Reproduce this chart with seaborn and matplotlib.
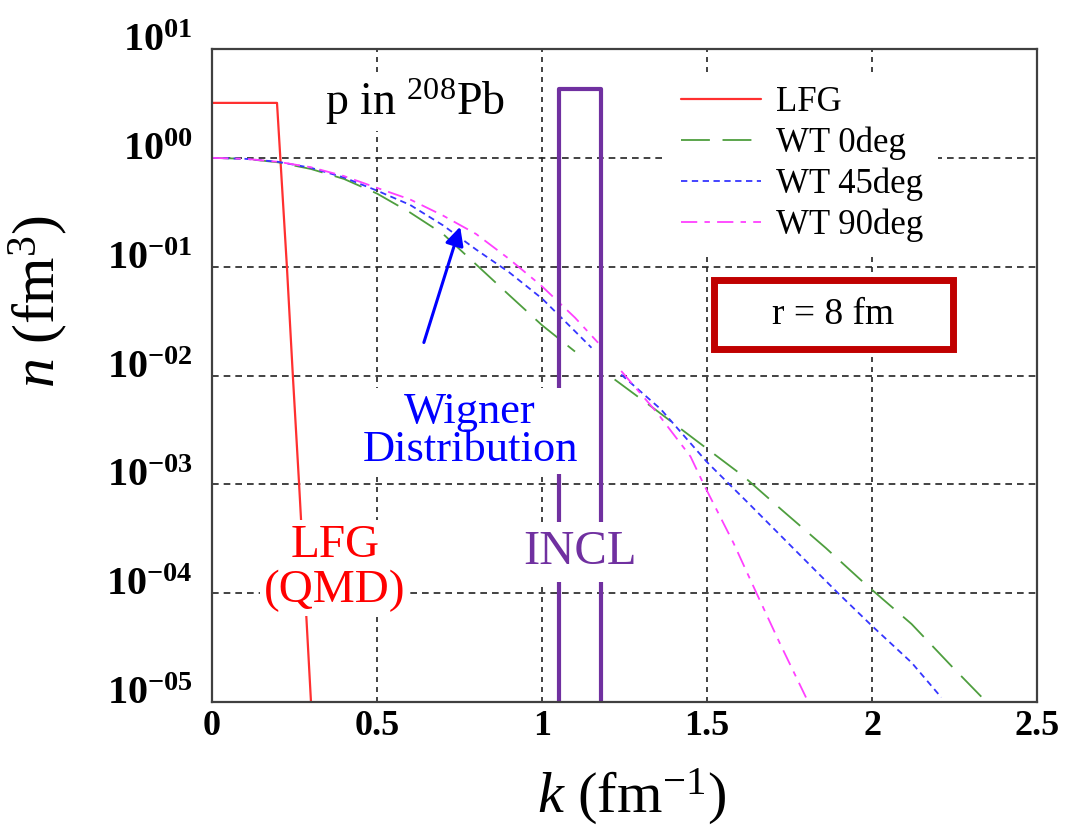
import numpy as np
import pandas as pd
import matplotlib
matplotlib.use("Agg")
import matplotlib.pyplot as plt
import seaborn as sns
from matplotlib.transforms import ScaledTranslation
from matplotlib.ticker import FixedLocator, FixedFormatter, LogLocator, NullFormatter, MultipleLocator
from matplotlib.patches import Rectangle

# ---------------- data ----------------
lfg_k = [0.0, 0.197, 0.227, 0.245, 0.264, 0.282, 0.300, 0.305]
lfg_n = [3.2, 3.2, 1e-1, 1e-2, 1e-3, 1e-4, 1e-5, 7e-6]

wt0_k_low = [0.0, 0.1, 0.2, 0.3, 0.4, 0.5, 0.6, 0.7, 0.8, 0.9, 1.0, 1.1]
wt0_n_low = [1.0, 0.98, 0.91, 0.79, 0.64, 0.47, 0.315, 0.20, 0.105, 0.055, 0.029, 0.0166]
wt0_k_high = [1.22, 1.35, 1.49, 1.61, 1.73, 1.86, 1.98, 2.12, 2.24, 2.34]
wt0_n_high = [9.2e-3, 4.7e-3, 2.24e-3, 1.19e-3, 5.7e-4, 2.6e-4, 1.21e-4, 5.2e-5, 2.15e-5, 1.05e-5]

wt45_k_low = [0.0, 0.1, 0.2, 0.3, 0.4, 0.5, 0.6, 0.7, 0.8, 0.9, 1.0, 1.1, 1.15]
wt45_n_low = [1.0, 0.98, 0.92, 0.81, 0.66, 0.50, 0.37, 0.24, 0.144, 0.089, 0.051, 0.0255, 0.018]
wt45_k_high = [1.24, 1.36, 1.50, 1.63, 1.75, 1.89, 2.00, 2.12, 2.21]
wt45_n_high = [0.0102, 4.9e-3, 1.6e-3, 6.5e-4, 2.8e-4, 1.05e-4, 5.0e-5, 2.3e-5, 1.1e-5]

wt90_k_low = [0.0, 0.1, 0.2, 0.3, 0.4, 0.5, 0.6, 0.7, 0.8, 0.9, 1.0, 1.1, 1.17]
wt90_n_low = [1.0, 0.98, 0.92, 0.82, 0.68, 0.53, 0.415, 0.295, 0.20, 0.118, 0.066, 0.034, 0.020]
wt90_k_high = [1.24, 1.35, 1.45, 1.49, 1.58, 1.65, 1.72, 1.80]
wt90_n_high = [0.011, 4.5e-3, 1.8e-3, 1.0e-3, 2.9e-4, 1.0e-4, 3.5e-5, 1.1e-5]

incl_k = [1.05, 1.05, 1.18, 1.18]
incl_n = [1e-6, 4.3, 4.3, 1e-6]

series_labels = ["LFG", "WT 0deg", "WT 45deg", "WT 90deg"]
x_ticks = [0, 0.5, 1.0, 1.5, 2.0, 2.5]
x_ticklabels = ["0", "0.5", "1", "1.5", "2", "2.5"]
y_ticks = [1e-5, 1e-4, 1e-3, 1e-2, 1e-1, 1e0, 1e1]
y_ticklabels = [r"$\mathbf{10^{-05}}$", r"$\mathbf{10^{-04}}$", r"$\mathbf{10^{-03}}$",
                r"$\mathbf{10^{-02}}$", r"$\mathbf{10^{-01}}$", r"$\mathbf{10^{00}}$",
                r"$\mathbf{10^{01}}$"]

# ---------------- style ----------------
sns.set_style("white")
plt.rcParams["font.family"] = "serif"
plt.rcParams["font.serif"] = ["Liberation Serif", "DejaVu Serif"]
plt.rcParams["mathtext.fontset"] = "custom"
plt.rcParams["mathtext.rm"] = "Liberation Serif"
plt.rcParams["mathtext.it"] = "Liberation Serif:italic"
plt.rcParams["mathtext.bf"] = "Liberation Serif:bold"
plt.rcParams["text.color"] = "black"
plt.rcParams["axes.labelcolor"] = "black"
plt.rcParams["xtick.color"] = "black"
plt.rcParams["ytick.color"] = "black"

RED = "#ff3030"
GREEN = "#4e9e3e"
BLUE = "#3535ff"
MAGENTA = "#ff40ff"
PURPLE = "#7030a0"

fig = plt.figure(figsize=(10.86, 8.34), dpi=100)
ax = fig.add_axes([0.1952, 0.1583, 0.7597, 0.7829])
ax.set_yscale("log")

lw = 1.3
sns.lineplot(x=lfg_k, y=lfg_n, ax=ax, sort=False, estimator=None, color=RED, lw=1.6,
             label=series_labels[0])
sns.lineplot(x=wt0_k_low, y=wt0_n_low, ax=ax, sort=False, estimator=None, color=GREEN, lw=lw,
             ls=(0, (16, 7)), label=series_labels[1])
sns.lineplot(x=wt45_k_low, y=wt45_n_low, ax=ax, sort=False, estimator=None, color=BLUE, lw=lw,
             ls=(0, (3.5, 2.5)), label=series_labels[2])
sns.lineplot(x=wt90_k_low, y=wt90_n_low, ax=ax, sort=False, estimator=None, color=MAGENTA, lw=lw,
             ls=(0, (9, 4, 3, 4)), label=series_labels[3])
sns.lineplot(x=wt0_k_high, y=wt0_n_high, ax=ax, sort=False, estimator=None, color=GREEN, lw=lw,
             ls=(0, (16, 7)), label="_nolegend_")
sns.lineplot(x=wt45_k_high, y=wt45_n_high, ax=ax, sort=False, estimator=None, color=BLUE, lw=lw,
             ls=(0, (3.5, 2.5)), label="_nolegend_")
sns.lineplot(x=wt90_k_high, y=wt90_n_high, ax=ax, sort=False, estimator=None, color=MAGENTA, lw=lw,
             ls=(0, (9, 4, 3, 4)), label="_nolegend_")
sns.lineplot(x=incl_k, y=incl_n, ax=ax, sort=False, estimator=None, color=PURPLE, lw=3.0,
             label="_nolegend_")

ax.set_xlim(0, 2.5)
ax.set_ylim(1e-5, 1e1)

# ticks
ax.xaxis.set_major_locator(FixedLocator(x_ticks))
ax.xaxis.set_major_formatter(FixedFormatter(x_ticklabels))
ax.xaxis.set_minor_locator(MultipleLocator(0.1))
ax.yaxis.set_major_locator(FixedLocator(y_ticks))
ax.yaxis.set_major_formatter(FixedFormatter(y_ticklabels))
ax.yaxis.set_minor_locator(LogLocator(base=10, subs=np.arange(2, 10)))
ax.yaxis.set_minor_formatter(NullFormatter())

ax.tick_params(axis="both", which="both", direction="in", top=False, right=False,
               color="#333333", width=1.3, labelcolor="black")
ax.tick_params(axis="x", which="both", length=9)
ax.tick_params(axis="x", which="major", pad=6, labelsize=26)
ax.tick_params(axis="y", which="major", length=10, pad=14, labelsize=29)
ax.tick_params(axis="y", which="minor", length=7)
for lab in ax.get_xticklabels():
    lab.set_fontweight("bold")

# grid
ax.set_axisbelow(True)
ax.yaxis.grid(True, which="major", color="#222222", lw=1.2, ls=(0, (4, 3)))
ax.xaxis.grid(True, which="major", color="#222222", lw=1.2, ls=(0, (3, 3)))

for s in ax.spines.values():
    s.set_color("#404040")
    s.set_linewidth(1.6)

# labels
ax.set_xlabel(r"$k$ (fm$^{-1}$)", fontsize=42, color="black")
ax.set_ylabel(r"$n$ (fm$^{3}$)", fontsize=43, color="black")
ax.xaxis.set_label_coords(0.509, -0.10)
ax.yaxis.set_label_coords(-0.172, 0.613)

# legend
leg = ax.legend(loc="upper left", bbox_to_anchor=(0.5515, 0.965), fontsize=25,
                frameon=True, facecolor="white", edgecolor="none", framealpha=1.0,
                fancybox=False, handlelength=2.3, handletextpad=0.45,
                labelspacing=0.22, borderpad=0.4, borderaxespad=0.0)
leg.set_zorder(5)
for t in leg.get_texts():
    t.set_color("black")

# annotations
tb = dict(facecolor="white", edgecolor="none", pad=3)
ax.text(0.342, 2.48, r"p in $^{208}$Pb", fontsize=33, ha="left", va="baseline",
        color="black", bbox=tb, zorder=6)
ax.text(0.782, 3.1e-3, "Wigner\nDistribution", fontsize=32, ha="center", va="center",
        multialignment="center", linespacing=0.95, color="#0000ff", bbox=tb, zorder=6)
ax.text(0.373, 1.7e-4, "LFG\n(QMD)", fontsize=34, ha="center", va="center",
        multialignment="center", linespacing=1.08, color="#ff0000", bbox=tb, zorder=6)
ax.text(1.115, 2.4e-4, "INCL", fontsize=35, ha="center", va="center",
        color=PURPLE, bbox=dict(facecolor="white", edgecolor="none", pad=6), zorder=6)

ax.annotate("", xy=(0.752, 0.233), xytext=(0.642, 0.0201),
            arrowprops=dict(arrowstyle="-|>", color="#0000ff", lw=2.2,
                            mutation_scale=28, shrinkA=0, shrinkB=0), zorder=6)

ax.add_patch(Rectangle((0.608, 0.540), 0.290, 0.107, transform=ax.transAxes,
                       facecolor="white", edgecolor="#c00000", lw=5, zorder=5))
ax.text(0.753, 0.593, "r = 8 fm", transform=ax.transAxes, fontsize=27,
        ha="center", va="center", color="black", zorder=6)

# shift y tick labels upward like the reference
off = ScaledTranslation(0, 0.12, fig.dpi_scale_trans)
for lab in ax.get_yticklabels():
    lab.set_transform(lab.get_transform() + off)

fig.savefig("out.png", dpi=100)
